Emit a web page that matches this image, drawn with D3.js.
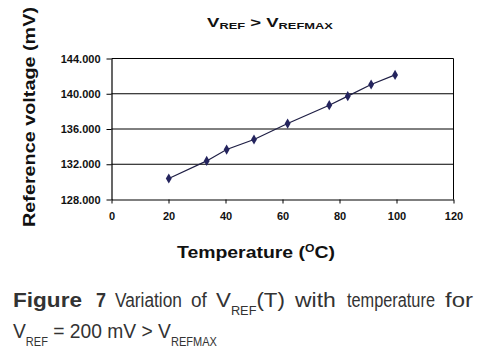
<!DOCTYPE html>
<html><head><meta charset="utf-8">
<script src="https://cdn.jsdelivr.net/npm/d3@7"></script>
<style>body{margin:0;background:#fff}svg{display:block}</style>
</head><body>
<svg id="c" width="483" height="356"></svg>
<script>
const temperature = [20.1, 33.4, 40.4, 50.0, 61.8, 76.4, 82.9, 91.1, 99.5];
const vref = [130380, 132380, 133670, 134810, 136620, 138700, 139730, 141050, 142140];
const xTicks = [0, 20, 40, 60, 80, 100, 120];
const yTicks = [128000, 132000, 136000, 140000, 144000];

const svg = d3.select("#c");
const x = d3.scaleLinear().domain([0, 120]).range([111.5, 453.5]);
const y = d3.scaleLinear().domain([128000, 144000]).range([199.5, 58.5]);
const loc = d3.formatLocale({decimal: ",", thousands: ".", grouping: [3], currency: ["", ""]});
const fmt = loc.format(",.0f");
const F = "'Liberation Sans', Arial, sans-serif";

// place a text element so that it starts at x0 and spans the given width (horizontal scale only)
function fit(sel, x0, y0, width) {
  const w = sel.node().getBBox().width;
  sel.attr("x", 0).attr("y", 0)
     .attr("transform", `translate(${x0},${y0}) scale(${width / w},1)`);
  return sel;
}

// gridlines
svg.append("g").selectAll("line").data(yTicks.slice(1)).join("line")
  .attr("x1", x(0)).attr("x2", x(120)).attr("y1", d => y(d)).attr("y2", d => y(d))
  .attr("stroke", "#000").attr("stroke-width", 1);
// right border
svg.append("line").attr("x1", x(120)).attr("x2", x(120)).attr("y1", y(144000)).attr("y2", y(128000))
  .attr("stroke", "#000");

const gy = svg.append("g").attr("transform", `translate(${x(0)},0)`)
  .call(d3.axisLeft(y).tickValues(yTicks).tickFormat(fmt).tickSize(5).tickSizeOuter(0).tickPadding(6));
const gx = svg.append("g").attr("transform", `translate(0,${y(128000)})`)
  .call(d3.axisBottom(x).tickValues(xTicks).tickSize(4).tickSizeOuter(0).tickPadding(9));
[gy, gx].forEach(g => {
  g.select(".domain").attr("stroke", "#000").attr("stroke-width", 1.2);
  g.selectAll(".tick line").attr("stroke", "#000");
  g.selectAll("text").attr("font-family", F).attr("font-size", 11).attr("font-weight", "bold").attr("fill", "#111");
});

// line + markers
const pts = temperature.map((t, i) => [t, vref[i]]);
svg.append("path").datum(pts)
  .attr("d", d3.line().x(d => x(d[0])).y(d => y(d[1])))
  .attr("fill", "none").attr("stroke", "#1e1e44").attr("stroke-width", 1.2);
svg.append("g").selectAll("path").data(pts).join("path")
  .attr("transform", d => `translate(${x(d[0])},${y(d[1])})`)
  .attr("d", d3.symbol(d3.symbolDiamond, 30))
  .attr("fill", "#24245e");

// title
const title = svg.append("text").attr("font-family", F).attr("font-weight", "bold").attr("fill", "#111");
title.append("tspan").attr("font-size", 13).text("V");
title.append("tspan").attr("font-size", 9).attr("dy", 2).text("REF");
title.append("tspan").attr("font-size", 13).attr("dy", -2).text(" > V");
title.append("tspan").attr("font-size", 9).attr("dy", 2).text("REFMAX");
fit(title, 207, 27, 126);

// y axis title
svg.append("text").attr("transform", "translate(35,117) rotate(-90)")
  .attr("text-anchor", "middle").attr("font-family", F).attr("font-weight", "bold").attr("font-size", 17)
  .attr("fill", "#111").attr("textLength", 220).attr("lengthAdjust", "spacingAndGlyphs")
  .text("Reference voltage (mV)");

// x axis title
const xt = svg.append("text").attr("font-family", F).attr("font-weight", "bold").attr("font-size", 16).attr("fill", "#111");
xt.append("tspan").text("Temperature (");
xt.append("tspan").attr("font-size", 10).attr("dy", -6).text("O");
xt.append("tspan").attr("dy", 6).text("C)");
fit(xt, 177, 258, 158);

// caption
const cap = svg.append("g").attr("font-family", F).attr("fill", "#333").attr("font-size", 21);
fit(cap.append("text").attr("font-weight", "bold").text("Figure"), 13, 307, 69);
fit(cap.append("text").attr("font-weight", "bold").text("7"), 96, 307, 10);
[["Variation", 115, 67], ["of", 191, 16], ["with", 295, 42], ["temperature", 347, 88], ["for", 445, 28]]
  .forEach(w => fit(cap.append("text").text(w[0]), w[1], 307, w[2]));
const v1 = cap.append("text");
v1.append("tspan").text("V");
v1.append("tspan").attr("font-size", 12).attr("dy", 8).text("REF");
v1.append("tspan").attr("dy", -8).text("(T)");
fit(v1, 216, 307, 69);
const l2 = cap.append("text");
l2.append("tspan").text("V");
l2.append("tspan").attr("font-size", 12).attr("dy", 8).text("REF");
l2.append("tspan").attr("dy", -8).text(" = 200 mV > V");
l2.append("tspan").attr("font-size", 12).attr("dy", 8).text("REFMAX");
fit(l2, 13, 338, 204);
</script>
</body></html>
